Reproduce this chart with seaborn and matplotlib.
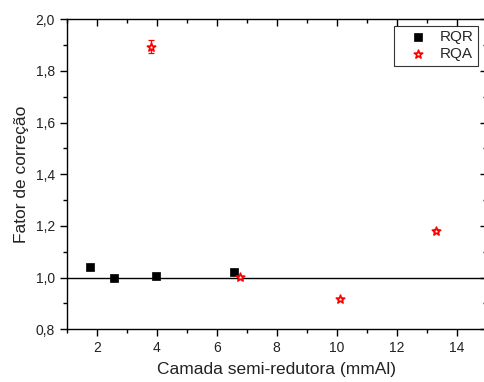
import numpy as np
import pandas as pd
import matplotlib
matplotlib.use("Agg")
import matplotlib.pyplot as plt
import seaborn as sns
from matplotlib.ticker import MultipleLocator, FuncFormatter


# ---------------------------------------------
# Dados
# ---------------------------------------------
rqr_x = [1.77, 2.59, 3.97, 6.58]
rqr_y = [1.043, 1.000, 1.007, 1.023]

rqa_x = [3.81, 6.79, 10.11, 13.31]
rqa_y = [1.894, 1.001, 0.918, 1.182]
rqa_err = [0.024, 0.005, 0.005, 0.007]


def comma(v, pos):
    return f"{v:.1f}".replace(".", ",")


def comma_int(v, pos):
    return f"{v:.0f}"


def create_graph():

    sns.set_theme(style="white")
    plt.rcParams["font.family"] = ["Liberation Sans", "DejaVu Sans"]

    fig = plt.figure(figsize=(4.85, 3.82), dpi=100)
    ax = fig.add_axes([66.7 / 485, 52.7 / 382, 420 / 485, 310 / 382])

    df_rqr = pd.DataFrame({"x": rqr_x, "y": rqr_y})
    df_rqa = pd.DataFrame({"x": rqa_x, "y": rqa_y})

    ax.axhline(1.0, color="black", linewidth=1.0, zorder=1)

    ax.errorbar(rqa_x, rqa_y, yerr=rqa_err, fmt="none",
                ecolor="red", elinewidth=0.9, capsize=2.5, capthick=0.9, zorder=2)

    sns.scatterplot(data=df_rqr, x="x", y="y", ax=ax, marker="s", s=36,
                    color="black", edgecolor="black", linewidth=0.5,
                    label="RQR", zorder=3)
    sns.scatterplot(data=df_rqa, x="x", y="y", ax=ax, marker="*", s=40,
                    facecolor="white", edgecolor="red", linewidth=1.2,
                    label="RQA", zorder=3)

    ax.set_xlim(1, 15)
    ax.set_ylim(0.8, 2.0)

    ax.xaxis.set_major_locator(MultipleLocator(2))
    ax.xaxis.set_minor_locator(MultipleLocator(1))
    ax.yaxis.set_major_locator(MultipleLocator(0.2))
    ax.yaxis.set_minor_locator(MultipleLocator(0.1))
    ax.yaxis.set_major_formatter(FuncFormatter(comma))
    ax.xaxis.set_major_formatter(FuncFormatter(comma_int))

    for s in ax.spines.values():
        s.set_color("black")
        s.set_linewidth(1.0)

    ax.tick_params(which="both", direction="out", color="black",
                   labelsize=10, labelcolor="#222222")
    ax.tick_params(which="major", length=5, width=1.0)
    ax.tick_params(which="minor", length=3, width=1.0)
    ax.tick_params(axis="x", which="both", top=True, bottom=True)
    ax.tick_params(axis="y", which="both", left=True, right=True)

    # ticks do topo e da direita apontam para dentro
    for t in ax.xaxis.get_major_ticks() + ax.xaxis.get_minor_ticks():
        t.tick2line.set_marker(3)
    for t in ax.yaxis.get_major_ticks() + ax.yaxis.get_minor_ticks():
        t.tick2line.set_marker(0)

    ax.set_xlabel("Camada semi-redutora (mmAl)", fontsize=12.5,
                  color="#222222", labelpad=5)
    ax.set_ylabel("Fator de correção", fontsize=12.5,
                  color="#222222", labelpad=5)

    leg = ax.legend(loc="upper right", bbox_to_anchor=((478 - 66.7) / 420, 1 - 6.4 / 310),
                    frameon=True, fancybox=False, fontsize=11,
                    handletextpad=0.15, borderpad=0.3, labelspacing=0.2,
                    handlelength=2.5, borderaxespad=0)
    leg.get_frame().set_edgecolor("black")
    leg.get_frame().set_linewidth(0.8)

    fig.savefig("out.png", dpi=100)


if __name__ == "__main__":
    create_graph()
